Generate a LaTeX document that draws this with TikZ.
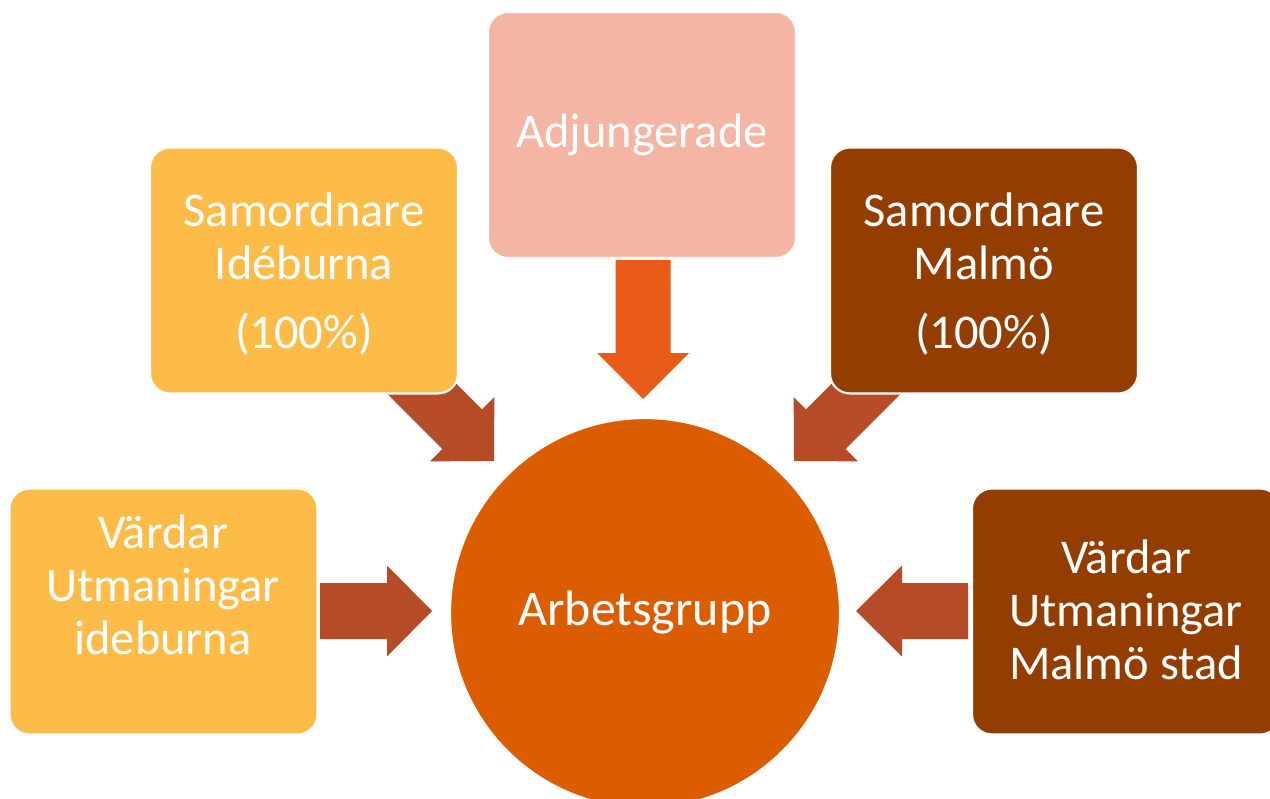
\documentclass[tikz,border=0pt]{standalone}
\usepackage{fontspec}
\setmainfont{Carlito}
\definecolor{cPink}{HTML}{F4B5A4}
\definecolor{cYellow}{HTML}{FDBB48}
\definecolor{cBrown}{HTML}{943D00}
\definecolor{cCircle}{HTML}{DC5C00}
\definecolor{cDown}{HTML}{E85B19}
\definecolor{cArrow}{HTML}{B64B28}
\newcommand\blockarrow[7]{% tip, angle, headlen, halfhead, halfshaft, shaftlen, colour
  \fill[#7, shift={(#1)}, rotate=#2] (0,0) -- (-#3,#4) -- (-#3,#5) -- ({-#3-#6},#5)
    -- ({-#3-#6},-#5) -- (-#3,-#5) -- (-#3,-#4) -- cycle;}
\begin{document}
\begin{tikzpicture}[x=0.02cm,y=-0.02cm,
  box/.style={rounded corners=0.4cm, draw=white, line width=1.2pt,
    minimum width=6.16cm, minimum height=4.92cm, inner sep=0pt},
  txt/.style={text=white, align=center, inner sep=0pt,
    font=\fontsize{27.6}{30}\selectfont}]
\useasboundingbox (0,0) rectangle (1270,798);
\begin{scope}
\clip (0,0) rectangle (1270,798);
% arrow tips
\coordinate (tDown) at (643,399);
\coordinate (tUL) at (494,461);
\coordinate (tUR) at (794,461);
\coordinate (tL) at (432,611);
\coordinate (tR) at (856,611);
\blockarrow{tDown}{-90}{46}{46}{27.5}{93}{cDown}
\blockarrow{tUL}{-45}{45}{45.5}{28}{85}{cArrow}
\blockarrow{tUR}{-135}{45}{45.5}{28}{85}{cArrow}
\blockarrow{tL}{0}{45}{45.5}{28}{67}{cArrow}
\blockarrow{tR}{180}{46}{45.5}{28}{66}{cArrow}
% boxes
\node[box, fill=cPink] (adj) at (642,135) {};
\node[box, fill=cYellow] (sid) at (304,270.5) {};
\node[box, fill=cBrown] (smal) at (984,270.5) {};
\node[box, fill=cYellow] (vid) at (163.5,611.5) {};
\node[box, fill=cBrown] (vmal) at (1126,611.5) {};
% circle
\node[circle, fill=cCircle, draw=white, line width=1.2pt, minimum size=7.8cm, inner sep=0pt] (arb) at (645,613) {};
% texts
\node[txt] (adjT) at (642,135) {Adjungerade};
\node[txt] (sidT) at (304,274) {Samordnare\\Idéburna\\[9.6pt](100\%)};
\node[txt] (smalT) at (984,274) {Samordnare\\Malmö\\[9.6pt](100\%)};
\node[txt] (vidT) at (163,585) {Värdar\\Utmaningar\\ideburna};
\node[txt] (vmalT) at (1126,610) {Värdar\\Utmaningar\\Malmö stad};
\node[txt, font=\fontsize{28.4}{30}\selectfont] (arbT) at (645,612) {Arbetsgrupp};
\end{scope}
\end{tikzpicture}
\end{document}
